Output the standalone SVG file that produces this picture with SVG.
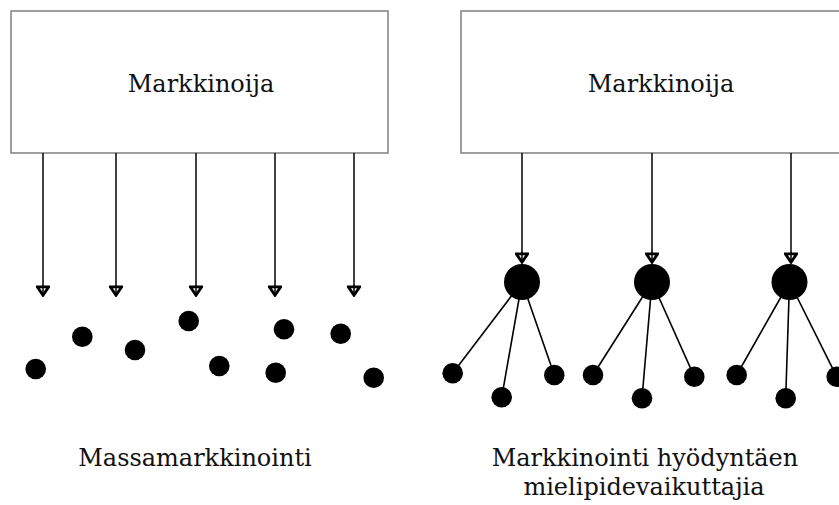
<svg xmlns="http://www.w3.org/2000/svg" width="839" height="505" viewBox="0 0 839 505">
<defs>
<style>
.box{fill:#fff;stroke:#7f7f7f;stroke-width:1.5}
.lbl{font-family:"DejaVu Serif","Liberation Serif",serif;font-size:24px;fill:#111;text-anchor:middle}
.arr{stroke:#000;stroke-width:1.5;fill:none}
.spoke{stroke:#000;stroke-width:1.6;fill:none}
.dot{fill:#000}
</style>
<marker id="ah" viewBox="0 0 12 14" refX="11" refY="7" markerWidth="12" markerHeight="14" markerUnits="userSpaceOnUse" orient="auto">
<path d="M1.8,1.3 L1.8,12.7 L10.3,7 Z" fill="#fff" stroke="#000" stroke-width="2.8" stroke-linejoin="miter"/>
<path d="M0,7 L11,7" stroke="#000" stroke-width="1.5"/>
</marker>
</defs>
<rect width="839" height="505" fill="#fff"/>

<g id="marketer-left">
<rect class="box" x="11" y="11" width="377" height="142"/>
<text class="lbl" x="201" y="92">Markkinoija</text>
</g>
<g id="marketer-right">
<rect class="box" x="461" y="11" width="400" height="142"/>
<text class="lbl" x="661" y="92">Markkinoija</text>
</g>

<g id="connectors">
<line class="arr" x1="43" y1="153" x2="43" y2="296" marker-end="url(#ah)"/>
<line class="arr" x1="116" y1="153" x2="116" y2="296" marker-end="url(#ah)"/>
<line class="arr" x1="196" y1="153" x2="196" y2="296" marker-end="url(#ah)"/>
<line class="arr" x1="275" y1="153" x2="275" y2="296" marker-end="url(#ah)"/>
<line class="arr" x1="354" y1="153" x2="354" y2="296" marker-end="url(#ah)"/>
<line class="arr" x1="522" y1="153" x2="522" y2="263" marker-end="url(#ah)"/>
<line class="arr" x1="652" y1="153" x2="652" y2="263" marker-end="url(#ah)"/>
<line class="arr" x1="791" y1="153" x2="791" y2="263" marker-end="url(#ah)"/>
<line class="spoke" x1="522" y1="282" x2="452.7" y2="373.3"/>
<line class="spoke" x1="522" y1="282" x2="501.7" y2="397.3"/>
<line class="spoke" x1="522" y1="282" x2="554.3" y2="375"/>
<line class="spoke" x1="652" y1="282" x2="593" y2="375"/>
<line class="spoke" x1="652" y1="282" x2="642" y2="398.3"/>
<line class="spoke" x1="652" y1="282" x2="694.3" y2="376.7"/>
<line class="spoke" x1="789.5" y1="282" x2="736.7" y2="375"/>
<line class="spoke" x1="789.5" y1="282" x2="785.7" y2="398.3"/>
<line class="spoke" x1="789.5" y1="282" x2="836.7" y2="376.7"/>
</g>

<g id="mass-audience">
<circle class="dot" cx="35.7" cy="369" r="10.3"/>
<circle class="dot" cx="82.3" cy="336.7" r="10.3"/>
<circle class="dot" cx="135" cy="350" r="10.3"/>
<circle class="dot" cx="188.7" cy="321" r="10.3"/>
<circle class="dot" cx="219.3" cy="366" r="10.3"/>
<circle class="dot" cx="284" cy="329.3" r="10.3"/>
<circle class="dot" cx="275.7" cy="372.7" r="10.3"/>
<circle class="dot" cx="340.7" cy="333.7" r="10.3"/>
<circle class="dot" cx="373.7" cy="377.7" r="10.3"/>
</g>

<g id="influencer-1">
<circle class="dot" cx="522" cy="282" r="18"/>
<circle class="dot" cx="452.7" cy="373.3" r="10.3"/>
<circle class="dot" cx="501.7" cy="397.3" r="10.3"/>
<circle class="dot" cx="554.3" cy="375" r="10.3"/>
</g>
<g id="influencer-2">
<circle class="dot" cx="652" cy="282" r="18"/>
<circle class="dot" cx="593" cy="375" r="10.3"/>
<circle class="dot" cx="642" cy="398.3" r="10.3"/>
<circle class="dot" cx="694.3" cy="376.7" r="10.3"/>
</g>
<g id="influencer-3">
<circle class="dot" cx="789.5" cy="282" r="18"/>
<circle class="dot" cx="736.7" cy="375" r="10.3"/>
<circle class="dot" cx="785.7" cy="398.3" r="10.3"/>
<circle class="dot" cx="836.7" cy="376.7" r="10.3"/>
</g>

<g id="caption-left">
<text class="lbl" x="195" y="466">Massamarkkinointi</text>
</g>
<g id="caption-right">
<text class="lbl" x="645" y="466">Markkinointi hyödyntäen</text>
<text class="lbl" x="644" y="495">mielipidevaikuttajia</text>
</g>
</svg>
